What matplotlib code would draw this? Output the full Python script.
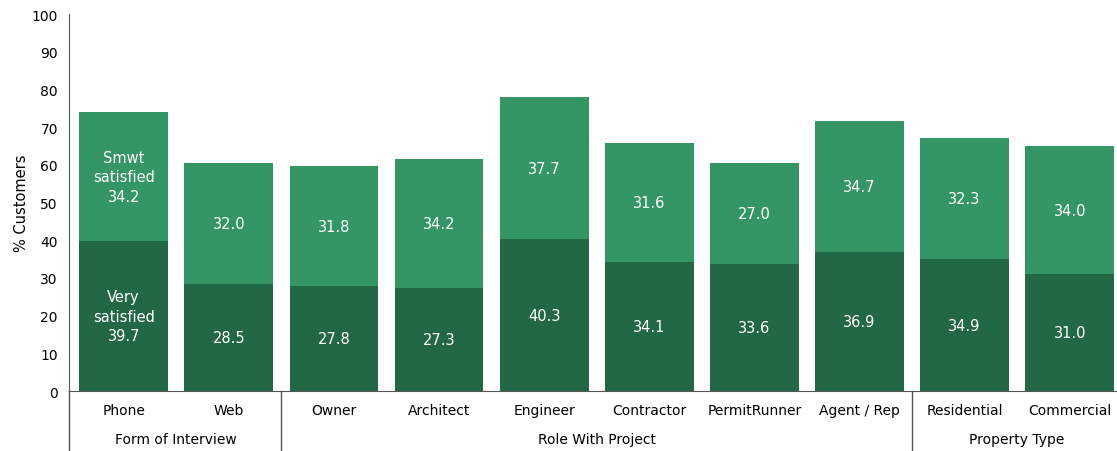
import matplotlib.pyplot as plt

categories = ['Phone', 'Web', 'Owner', 'Architect', 'Engineer', 'Contractor',
              'PermitRunner', 'Agent / Rep', 'Residential', 'Commercial']
very_satisfied = [39.7, 28.5, 27.8, 27.3, 40.3, 34.1, 33.6, 36.9, 34.9, 31.0]
smwt_satisfied = [34.2, 32.0, 31.8, 34.2, 37.7, 31.6, 27.0, 34.7, 32.3, 34.0]
groups = [('Form of Interview', 0, 1), ('Role With Project', 2, 7), ('Property Type', 8, 9)]

dark = '#236845'
light = '#339664'

fig = plt.figure(figsize=(11.17, 4.52), dpi=100)
ax = fig.add_axes([0.0618, 0.1327, 0.9382, 0.834])

x = range(len(categories))
ax.bar(x, very_satisfied, width=0.845, color=dark)
ax.bar(x, smwt_satisfied, width=0.845, bottom=very_satisfied, color=light)

for i in x:
    v, s = very_satisfied[i], smwt_satisfied[i]
    if i == 0:
        vt = 'Very\nsatisfied\n%.1f' % v
        st = 'Smwt\nsatisfied\n%.1f' % s
    else:
        vt = '%.1f' % v
        st = '%.1f' % s
    ax.text(i, v / 2, vt, ha='center', va='center', color='white', fontsize=10.5,
            linespacing=1.4)
    ax.text(i, v + s / 2, st, ha='center', va='center', color='white', fontsize=10.5,
            linespacing=1.4)

ax.set_xlim(-0.52, 9.45)
ax.set_ylim(0, 100)
ax.set_yticks(range(0, 101, 10))
ax.tick_params(axis='y', length=0, pad=8, labelsize=10)
ax.set_xticks([])
ax.set_ylabel('% Customers', fontsize=10.5, labelpad=2)

for side in ['top', 'right']:
    ax.spines[side].set_visible(False)
ax.spines['left'].set_color('#555555')
ax.spines['bottom'].set_color('#555555')

trans = ax.get_xaxis_transform()
ax.plot([-0.52, -0.52], [0, -0.16], transform=trans, color='#555555', lw=1, clip_on=False)
for pos in [1.5, 7.5]:
    ax.plot([pos, pos], [0, -0.16], transform=trans, color='#555555', lw=1, clip_on=False)

for i, c in enumerate(categories):
    ax.text(i, -0.05, c, transform=trans, ha='center', va='center', fontsize=10)
for name, a, b in groups:
    ax.text((a + b) / 2, -0.128, name, transform=trans, ha='center', va='center', fontsize=10)

fig.savefig('out.png', dpi=100)
